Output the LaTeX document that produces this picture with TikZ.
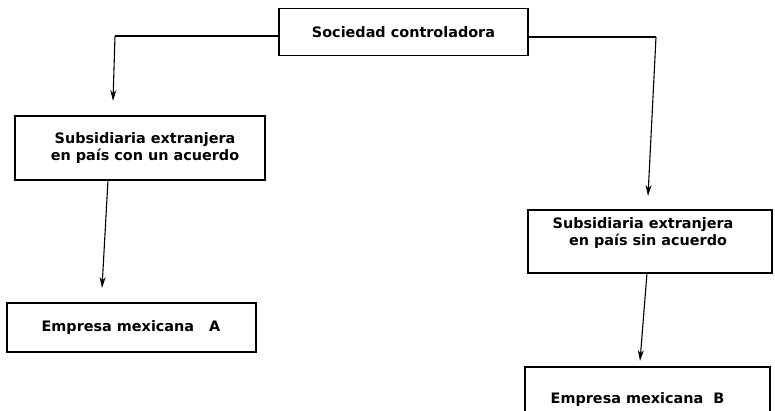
\documentclass[tikz,border=0pt]{standalone}
\usepackage{fontspec}
\setmainfont{DejaVu Sans}
\usetikzlibrary{arrows.meta}
\begin{document}
\begin{tikzpicture}[x=1pt,y=-1pt,
  every node/.style={font=\fontsize{14.4}{17}\selectfont\bfseries, align=center, inner sep=0pt},
  box/.style={draw, line width=1.1pt, minimum width=#1},
  arr/.style={line width=1.1pt, -{Stealth[length=11pt,width=6pt]}},
  link/.style={line width=1.1pt}]
\clip (0,0) rectangle (775,411);
\fill[white] (0,0) rectangle (775,411);

% holding company
\node[box=249pt, minimum height=47pt] (soc) at (403.5,32) {Sociedad controladora};

% foreign subsidiaries
\node[box=250pt, minimum height=64pt] (subA) at (140,148) {};
\node (subAtxt) at (145,148.5) {Subsidiaria extranjera\\en país con un acuerdo};
\node[box=244pt, minimum height=63pt] (subB) at (650,241.5) {};
\node (subBtxt) at (643,233.5) {Subsidiaria extranjera\\\ \ en país sin acuerdo};

% Mexican companies
\node[box=249pt, minimum height=49pt] (empA) at (131.5,327.5) {};
\node (empAtxt) at (131,328) {Empresa mexicana\ \ \ A};
\node[box=245pt, minimum height=70pt] (empB) at (647.5,402) {};
\node (empBtxt) at (637.5,400) {Empresa mexicana\ \ B};

% connectors
\coordinate (kL) at (115,36);
\coordinate (tL) at (113,101);
\coordinate (kR) at (656,37);
\coordinate (tR) at (648,196);
\coordinate (sA) at (108,180);
\coordinate (tA) at (102,288);
\coordinate (sB) at (647,273);
\coordinate (tB) at (640,361);

\draw[link] ([yshift=-4pt]soc.west) -- (kL);
\draw[arr] (kL) -- (tL);
\draw[link] ([yshift=-5pt]soc.east) -- (kR);
\draw[arr] (kR) -- (tR);
\draw[arr] (sA) -- (tA);
\draw[arr] (sB) -- (tB);
\end{tikzpicture}
\end{document}
